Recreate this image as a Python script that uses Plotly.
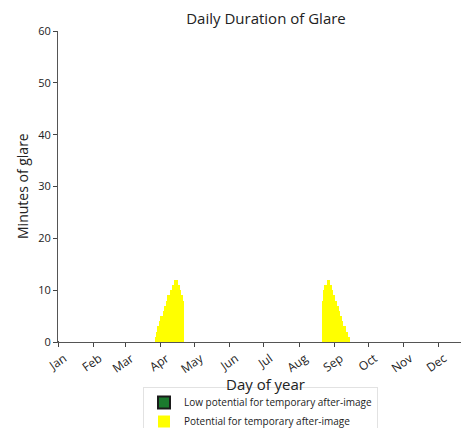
import plotly.graph_objects as go

# Month ticks (day-of-year of the first day of each month)
month_days = [1, 32, 60, 91, 121, 152, 182, 213, 244, 274, 305, 335]
month_labels = ["Jan", "Feb", "Mar", "Apr", "May", "Jun",
                "Jul", "Aug", "Sep", "Oct", "Nov", "Dec"]

# Spring glare window (day of year, minutes)
spring_days = list(range(87, 112))
spring_minutes = [1, 2, 3, 3, 4, 5, 5, 6, 7, 7, 8, 9, 9, 10, 10, 11, 11, 12, 12,
                  12, 11, 10, 9, 9, 8]

# Late-summer glare window (day of year, minutes)
summer_days = list(range(234, 258))
summer_minutes = [8, 10, 11, 11, 12, 12, 11, 11, 10, 9, 9, 8, 7, 7, 6, 5, 5, 4,
                  3, 3, 2, 2, 1, 1]

# Low-potential glare: no minutes recorded
low_days = [1]
low_minutes = [0]

W, H = 461, 428
ML, MR, MT, MB = 58, 0, 31, 86
plot_w = W - ML - MR
plot_h = H - MT - MB

fig = go.Figure()

fig.add_trace(go.Bar(
    x=low_days, y=low_minutes,
    name="Low potential for temporary after-image",
    marker=dict(color="#1b7a2e", line=dict(color="#1a1a1a", width=1)),
    width=1,
))
fig.add_trace(go.Bar(
    x=spring_days + summer_days, y=spring_minutes + summer_minutes,
    name="Potential for temporary after-image",
    marker=dict(color="#ffff00", line=dict(width=0)),
    width=1,
))

font_family = "Open Sans, DejaVu Sans, sans-serif"

fig.update_layout(
    width=W, height=H,
    margin=dict(l=ML, r=MR, t=MT, b=MB, autoexpand=False),
    paper_bgcolor="white", plot_bgcolor="white",
    font=dict(family=font_family, color="#222222"),
    barmode="overlay", bargap=0,
    title=dict(text="Daily Duration of Glare", font=dict(size=15, color="#222222"),
               x=266 / W, xanchor="center", xref="container",
               y=1 - 19 / H, yanchor="middle", yref="container"),
    showlegend=True,
    legend=dict(
        x=143 / W, xanchor="left", xref="container",
        y=1 - 387 / H, yanchor="top", yref="container",
        font=dict(size=10, color="#222222"),
        bordercolor="#e2e2e2", borderwidth=1,
        bgcolor="white",
        tracegroupgap=0, itemsizing="constant",
    ),
    annotations=[
        dict(text="Minutes of glare", textangle=-90, showarrow=False,
             xref="paper", yref="paper",
             x=(22 - ML) / plot_w, y=(MT + plot_h - 186) / plot_h,
             xanchor="center", yanchor="middle",
             font=dict(size=14, color="#222222")),
        dict(text="Day of year", showarrow=False,
             xref="paper", yref="paper",
             x=(265 - ML) / plot_w, y=(MT + plot_h - 384) / plot_h,
             xanchor="center", yanchor="middle",
             font=dict(size=15, color="#222222")),
    ],
)

fig.update_xaxes(
    range=[1, 1 + plot_w / 1.138],
    tickmode="array", tickvals=month_days, ticktext=month_labels,
    tickangle=-35, tickfont=dict(size=12),
    ticks="outside", ticklen=4, tickcolor="#444444",
    ticklabelshift=6,
    showline=True, linecolor="#555555", linewidth=1,
    showgrid=False, zeroline=False,
)
fig.update_yaxes(
    range=[0, 60],
    tickvals=[0, 10, 20, 30, 40, 50, 60],
    tickfont=dict(size=11),
    ticks="outside", ticklen=4, tickcolor="#444444",
    showline=True, linecolor="#555555", linewidth=1,
    showgrid=False, zeroline=False,
)

fig.write_html("out.html")
